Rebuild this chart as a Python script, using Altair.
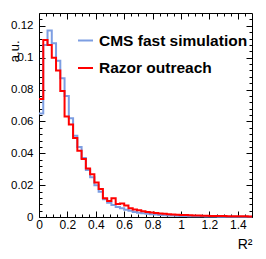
import altair as alt
import pandas as pd

series_names = ["CMS fast simulation", "Razor outreach"]
bin_width = 0.03
x_max = 1.5

cms_fast_sim = [
    0.065, 0.108, 0.117, 0.109, 0.098, 0.087, 0.076, 0.062, 0.051, 0.044,
    0.037, 0.0295, 0.025, 0.020, 0.0158, 0.0111, 0.009, 0.0076, 0.0063, 0.0055,
    0.0045, 0.004, 0.0032, 0.0027, 0.0023, 0.002, 0.0018, 0.0015, 0.0013, 0.0011,
    0.001, 0.0009, 0.0008, 0.0007, 0.0006, 0.0005, 0.0005, 0.0004, 0.0004, 0.0003,
    0.0003, 0.0003, 0.0002, 0.0002, 0.0002, 0.0002, 0.0001, 0.0001, 0.0001, 0.0001,
]
razor_outreach = [
    0.074, 0.111, 0.108, 0.100, 0.092, 0.079, 0.063, 0.058, 0.0496, 0.0416,
    0.0364, 0.0305, 0.0269, 0.0217, 0.0175, 0.0118, 0.0101, 0.0118, 0.0082, 0.0085,
    0.0072, 0.0055, 0.0047, 0.0042, 0.0036, 0.0031, 0.0028, 0.0025, 0.0022, 0.002,
    0.0018, 0.0016, 0.0014, 0.0013, 0.0012, 0.0011, 0.001, 0.0009, 0.0008, 0.0008,
    0.0007, 0.0007, 0.0006, 0.0006, 0.0005, 0.0005, 0.0004, 0.0004, 0.0004, 0.0003,
]

x_major = [0, 0.2, 0.4, 0.6, 0.8, 1.0, 1.2, 1.4]
x_minor = [0.05, 0.1, 0.15, 0.25, 0.3, 0.35, 0.45, 0.5, 0.55, 0.65, 0.7, 0.75,
           0.85, 0.9, 0.95, 1.05, 1.1, 1.15, 1.25, 1.3, 1.35, 1.45]
y_major = [0, 0.02, 0.04, 0.06, 0.08, 0.1, 0.12]
y_minor = [0.004, 0.008, 0.012, 0.016, 0.024, 0.028, 0.032, 0.036, 0.044, 0.048,
           0.052, 0.056, 0.064, 0.068, 0.072, 0.076, 0.084, 0.088, 0.092, 0.096,
           0.104, 0.108, 0.112, 0.116, 0.124]

rows = []
for name, vals in zip(series_names, [cms_fast_sim, razor_outreach]):
    for i, v in enumerate(vals):
        rows.append({"series": name, "x": round(i * bin_width, 4), "y": v, "order": i})
    rows.append({"series": name, "x": x_max, "y": vals[-1], "order": len(vals)})
df = pd.DataFrame(rows)

FONT = "Liberation Sans"
xs = alt.Scale(domain=[0, x_max], nice=False, zero=False)
ys = alt.Scale(domain=[0, 0.128], nice=False, zero=False)

main = alt.Chart(df).mark_line(interpolate="step-after", strokeWidth=2).encode(
    x=alt.X("x:Q", scale=xs, axis=alt.Axis(
        orient="bottom", values=x_major, format="~g", ticks=False, domain=False,
        grid=False, labelPadding=2, labelFontSize=12, labelFont=FONT,
        labelColor="black", labelFlush=False,
        title="R²", titleX=213, titleY=31, titleAlign="right",
        titleBaseline="alphabetic", titleFontSize=14, titleFontWeight="normal",
        titleFont=FONT, titleColor="black")),
    y=alt.Y("y:Q", scale=ys, axis=alt.Axis(
        orient="left", values=y_major, format="~g", ticks=False, domain=False,
        grid=False, labelPadding=6, labelFontSize=11.5, labelFont=FONT,
        labelColor="black", labelFlush=False,
        title="a.u.", titleX=-25, titleY=27, titleAngle=270, titleAlign="right",
        titleBaseline="middle", titleFontSize=13, titleFontWeight="normal",
        titleFont=FONT, titleColor="black")),
    color=alt.Color("series:N",
        scale=alt.Scale(domain=series_names, range=["#7d9ee2", "#ff0000"]),
        legend=alt.Legend(
            orient="none", legendX=38, legendY=19, title=None,
            symbolType="stroke", symbolSize=225, symbolStrokeWidth=2,
            labelFontSize=15.5, labelFontWeight="bold", labelFont=FONT,
            labelColor="black", labelOffset=5, rowPadding=10.5, padding=0,
            labelLimit=300)),
    order="order:Q",
)


def tick_layer(xorient, yorient, xvals, yvals, size):
    return alt.Chart(df).mark_line(strokeOpacity=0).encode(
        x=alt.X("x:Q", scale=xs, axis=alt.Axis(
            orient=xorient, values=xvals, labels=False, domain=False, grid=False,
            ticks=True, tickSize=size, offset=-size, title=None,
            tickColor="black", tickWidth=1)),
        y=alt.Y("y:Q", scale=ys, axis=alt.Axis(
            orient=yorient, values=yvals, labels=False, domain=False, grid=False,
            ticks=True, tickSize=size, offset=-size, title=None,
            tickColor="black", tickWidth=1)),
        order="order:Q",
    )


chart = alt.layer(
    main,
    tick_layer("bottom", "left", x_major, y_major, 6),
    tick_layer("bottom", "left", x_minor, y_minor, 3),
    tick_layer("top", "right", x_major, y_major, 6),
    tick_layer("top", "right", x_minor, y_minor, 3),
).resolve_axis(x="independent", y="independent").properties(
    width=213, height=204,
    padding={"left": 31, "top": 5, "right": 6, "bottom": 34},
    autosize=alt.AutoSizeParams(type="none"),
).configure_view(stroke="black", strokeWidth=1)

chart.save("out.html", embed_options={"renderer": "svg", "actions": False})
